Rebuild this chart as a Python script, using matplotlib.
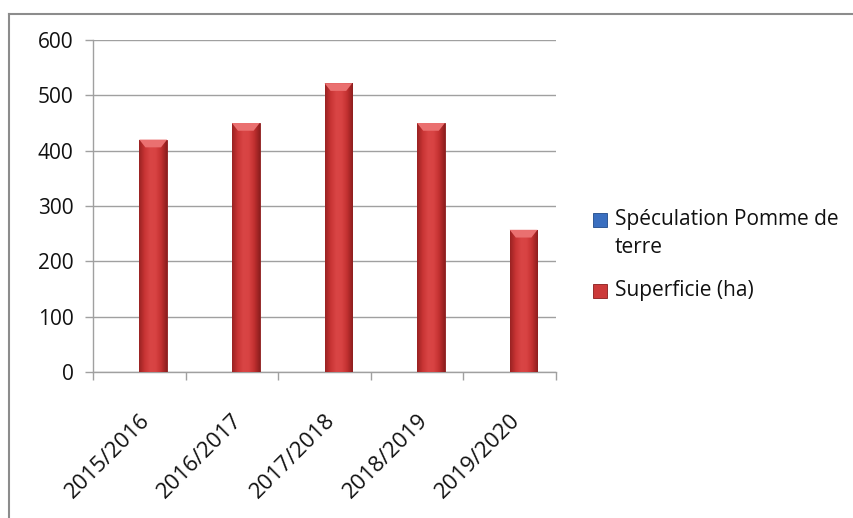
import numpy as np
import matplotlib
matplotlib.use("Agg")
import matplotlib.pyplot as plt
from matplotlib.lines import Line2D
from matplotlib.patches import Rectangle, Polygon
from matplotlib.colors import LinearSegmentedColormap

# DATA
campagnes = ["2015/2016", "2016/2017", "2017/2018", "2018/2019", "2019/2020"]
speculation = [0, 0, 0, 0, 0]          # series present in legend only
superficie = [420, 450, 522, 450, 257]  # ha
yticks = [0, 100, 200, 300, 400, 500, 600]
legend_labels = ["Spéculation Pomme de\nterre", "Superficie (ha)"]

plt.rcParams['font.family'] = ['Open Sans', 'DejaVu Sans']

red_cmap = LinearSegmentedColormap.from_list(
    "redbar", ["#9a2222", "#c83434", "#d94545", "#d84343", "#c23030", "#8e1e1e"])


def main():

    fig = plt.figure(figsize=(8.54, 5.18), dpi=100)
    ax = fig.add_axes([93 / 854, 1 - 372 / 518, (556 - 93) / 854, (372 - 40) / 518])

    x = np.arange(len(campagnes))
    w = 0.30

    # blue series is all zero -> invisible, red bars offset to the right
    ax.bar(x - w / 2, speculation, w, color="#3a6fc0")
    bars = ax.bar(x + w / 2, superficie, w, color="#cc3a3a",
                  edgecolor="#8a1c1c", linewidth=0.6, zorder=3)

    grad = np.linspace(0, 1, 64).reshape(1, -1)
    for b in bars:
        x0, y0 = b.get_x(), b.get_y()
        bw, bh = b.get_width(), b.get_height()
        im = ax.imshow(grad, cmap=red_cmap, aspect="auto",
                       extent=[x0, x0 + bw, y0, y0 + bh], zorder=3.5)
        im.set_clip_path(b)
        # small bevel highlight at top
        bev = 14
        tri = Polygon([[x0, y0 + bh], [x0 + bw, y0 + bh],
                       [x0 + bw * 0.78, y0 + bh - bev], [x0 + bw * 0.22, y0 + bh - bev]],
                      closed=True, facecolor="#ea7070", edgecolor="none", zorder=4)
        ax.add_patch(tri)

    ax.set_xlim(-0.5, len(campagnes) - 0.5)
    ax.set_ylim(0, 600)
    ax.set_yticks(yticks)
    ax.yaxis.grid(True, color="#a0a0a0", linewidth=1.0)
    ax.set_axisbelow(True)

    ax.set_xticks(x)
    ax.set_xticklabels(campagnes, rotation=45, ha="right", rotation_mode="anchor",
                       fontsize=16, color="#111111")
    ax.set_xticks(np.arange(len(campagnes) + 1) - 0.5, minor=True)
    ax.tick_params(axis="x", which="major", length=0, pad=27)
    ax.tick_params(axis="x", which="minor", length=6, color="#a0a0a0", width=1.0)
    ax.tick_params(axis="y", length=6, color="#a0a0a0", width=1.0, labelsize=15,
                   labelcolor="#111111", pad=8)

    for s in ["top", "right"]:
        ax.spines[s].set_visible(False)
    for s in ["left", "bottom"]:
        ax.spines[s].set_color("#a0a0a0")
        ax.spines[s].set_linewidth(1.0)

    # LEGEND (drawn by hand: handle sits on the first text line, as in Excel)
    hcol = [("#3a6fc0", "#1f4a8a"), ("#cc3a3a", "#8a1c1c")]
    ypos = [220, 291]
    for (fc, ec), lab, yp in zip(hcol, legend_labels, ypos):
        fig.add_artist(Rectangle((593 / 854, 1 - (yp + 7) / 518), 14 / 854, 14 / 518,
                                 transform=fig.transFigure, facecolor=fc,
                                 edgecolor=ec, linewidth=0.6))
        fig.text(615 / 854, 1 - (yp - 11) / 518, lab, fontsize=15, color="#111111",
                 ha="left", va="top", linespacing=1.45)

    # chart border (only left and top visible in the crop)
    fig.add_artist(Line2D([9 / 854, 9 / 854], [0, 1 - 13.5 / 518],
                          transform=fig.transFigure, color="#8c8c8c", linewidth=1.5))
    fig.add_artist(Line2D([9 / 854, 1], [1 - 13.5 / 518, 1 - 13.5 / 518],
                          transform=fig.transFigure, color="#8c8c8c", linewidth=1.5))

    plt.savefig("out.png", dpi=100)
    plt.close()


if __name__ == "__main__":
    main()
